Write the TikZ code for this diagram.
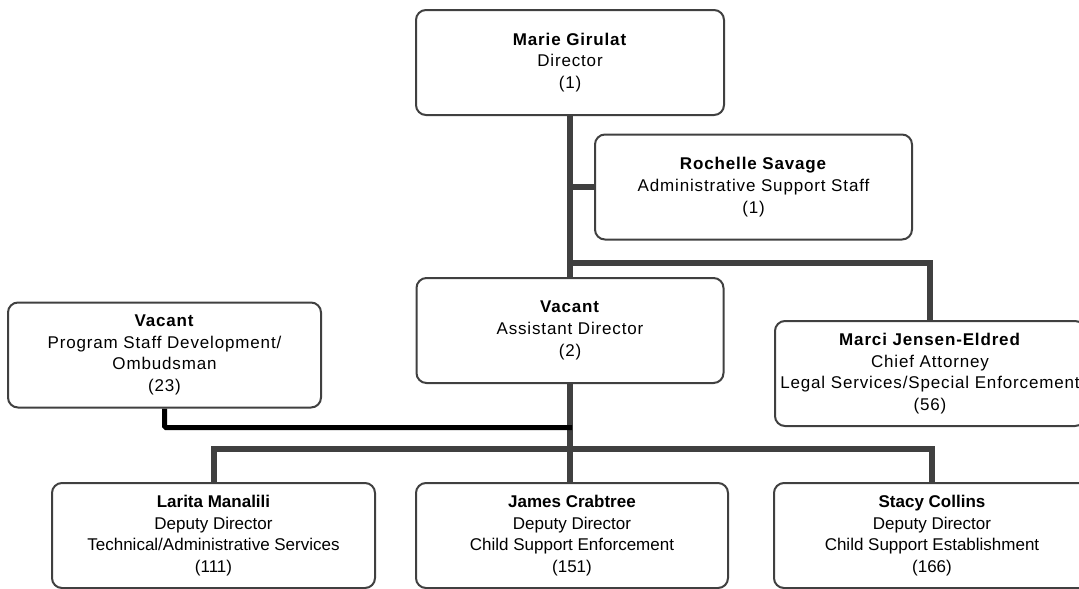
\documentclass[tikz,border=0pt]{standalone}
\usepackage{fontspec}
\setmainfont{Liberation Sans}
\newfontfamily\spacedfont[LetterSpace=5]{Liberation Sans}
\usetikzlibrary{positioning,backgrounds}
\definecolor{Ink}{HTML}{000000}
\definecolor{Frame}{HTML}{404040}
\definecolor{Tie}{HTML}{404040}
\tikzset{
  orgbox/.style={draw=Frame,line width=2pt,rounded corners=10pt,fill=white,text=Ink,align=center,
    minimum height=105pt,inner sep=2pt,font=\spacedfont\fontsize{17}{21.7}\selectfont},
  deputybox/.style={orgbox,font=\fontsize{17}{21.7}\selectfont},
  tie/.style={draw=Tie,line width=6pt},
  staffTie/.style={draw=Ink,line width=5pt,rounded corners=1.5pt}
}

\begin{document}
\begin{tikzpicture}[x=1pt,y=-1pt]
\useasboundingbox (0,0) rectangle (1079,589);
\clip (0,0) rectangle (1079,589);

% director and staff under her
\node[orgbox,minimum width=308pt] (dir) at (570,62.5) {\textbf{Marie Girulat}\\Director\\(1)};
\node[orgbox,minimum width=317pt] (roch) at (753.5,187) {\textbf{Rochelle Savage}\\Administrative Support Staff\\(1)};
\node[orgbox,minimum width=307pt] (asst) at (570,330.5) {\textbf{Vacant}\\Assistant Director\\(2)};
\node[orgbox,minimum width=313pt] (psd) at (164.5,355) {\textbf{Vacant}\\Program Staff Development/\\Ombudsman\\(23)};
\node[orgbox,minimum width=310pt] (legal) at (930,373.5) {\textbf{Marci Jensen-Eldred}\\Chief Attorney\\Legal Services/Special Enforcement\\(56)};

% deputy directors
\node[deputybox,minimum width=323pt] (tech) at (213.5,535.5) {\textbf{Larita Manalili}\\Deputy Director\\Technical/Administrative Services\\(111)};
\node[deputybox,minimum width=312pt] (enf) at (572,535.5) {\textbf{James Crabtree}\\Deputy Director\\Child Support Enforcement\\(151)};
\node[deputybox,minimum width=316pt] (est) at (932,535.5) {\textbf{Stacy Collins}\\Deputy Director\\Child Support Establishment\\(166)};

\coordinate (legalfork) at (570,262.5);
\coordinate (psdfork) at (572,427.5);
\coordinate (deputyfork) at (572,449);

\begin{scope}[on background layer]
\draw[tie] (dir.south) -- (asst.north);
\draw[tie] (dir.south |- roch.west) -- (roch.west);
\draw[tie] (legalfork) -| (legal.north);
\draw[tie] (asst.south) -- (asst.south |- enf.north);
\draw[tie] (tech.north) |- (deputyfork) -| (est.north);
\draw[staffTie] (psd.south) |- (psdfork);
\end{scope}
\end{tikzpicture}
\end{document}
